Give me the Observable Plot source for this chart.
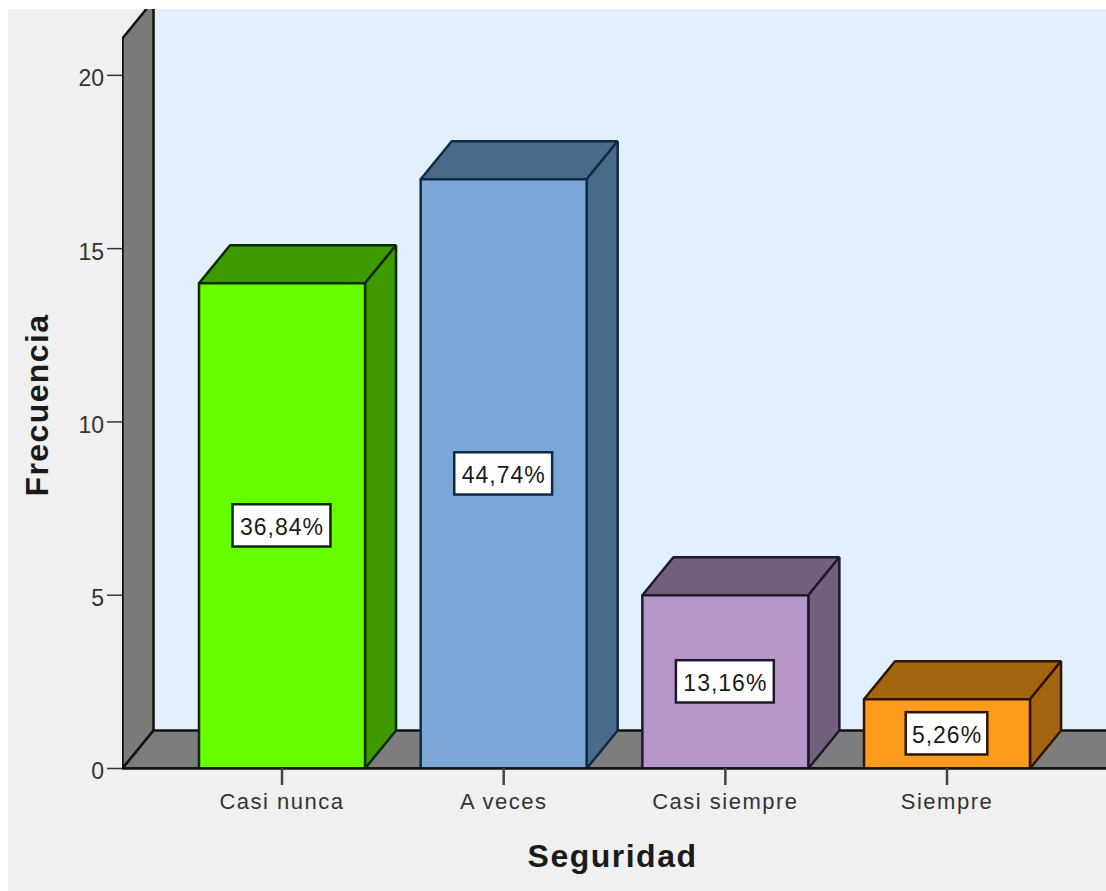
<!DOCTYPE html>
<html lang="es">
<head>
<meta charset="utf-8">
<script src="https://cdn.jsdelivr.net/npm/d3@7"></script>
<script src="https://cdn.jsdelivr.net/npm/@observablehq/plot@0.6"></script>
<style>
  html, body { margin: 0; padding: 0; background: #ffffff; }
  #panel { position: absolute; left: 8px; top: 9px; width: 1098px; height: 882px; background: #f0f0f0; overflow: hidden; }
  #panel svg { display: block; background: transparent; }
</style>
</head>
<body>
<div id="panel"></div>
<script>
// Frecuencia de respuestas por categoría de la variable Seguridad
const categorias = ["Casi nunca", "A veces", "Casi siempre", "Siempre"];
const frecuencias = [14, 17, 5, 2];
const marcasY = [0, 5, 10, 15, 20];

const rellenos = ["#66ff00", "#7ba7d6", "#b695c9", "#fb9a1b"];
const sombras = ["#3f9a02", "#4a6a8a", "#72607e", "#a5640f"];
const bordes = ["#0c2a00", "#0f2a45", "#21182b", "#2e1500"];

const total = d3.sum(frecuencias);
const porcentajes = frecuencias.map(v => (v / total * 100).toFixed(2).replace(".", ",") + "%");

// Extensión de los ejes y perspectiva del gráfico, en unidades de cada escala
const dominioX = [-0.7196, 3.7195];
const dominioY = [0, 21.9];
const medioAncho = 0.3744;
const fondoX = 0.14;
const fondoY = 1.097;
const altoPared = 21.07;
const altoCaja = 0.61;
const anchoCajaPorLetra = 0.0368;

// Polígono cerrado dibujado con las escalas x e y del gráfico
const poligono = (puntos, fill, stroke, strokeWidth = 2.5) =>
  Plot.line([...puntos, puntos[0]], {
    x: "0", y: "1", fill, stroke, strokeWidth,
    strokeLinejoin: "miter", curve: "linear", clip: true
  });

const x0 = dominioX[0];
const x1 = dominioX[1];

const escenario = [
  // Plano del fondo
  Plot.rect([0], {x1: x0 + fondoX, x2: x1, y1: fondoY, y2: dominioY[1], fill: "#e2effd"}),
  // Pared lateral
  poligono([[x0, 0], [x0 + fondoX, fondoY], [x0 + fondoX, altoPared + fondoY], [x0, altoPared]], "#7b7a78", "#111111"),
  // Suelo
  poligono([[x0, 0], [x0 + fondoX, fondoY], [x1 + fondoX, fondoY], [x1 + fondoX, 0]], "#7d7d7d", "#111111")
];

const barras = categorias.flatMap((_, i) => {
  const a = i - medioAncho;
  const b = i + medioAncho;
  const v = frecuencias[i];
  return [
    poligono([[a, v], [a + fondoX, v + fondoY], [b + fondoX, v + fondoY], [b, v]], sombras[i], bordes[i]),
    poligono([[b, 0], [b + fondoX, fondoY], [b + fondoX, v + fondoY], [b, v]], sombras[i], bordes[i]),
    poligono([[a, 0], [a, v], [b, v], [b, 0]], rellenos[i], bordes[i])
  ];
});

const etiquetas = categorias.flatMap((_, i) => {
  const medio = porcentajes[i].length * anchoCajaPorLetra;
  return [
    Plot.rect([i], {
      x1: d => d - medio, x2: d => d + medio,
      y1: frecuencias[i] / 2 - altoCaja, y2: frecuencias[i] / 2 + altoCaja,
      fill: "#ffffff", stroke: bordes[i], strokeWidth: 2.5
    }),
    Plot.text([porcentajes[i]], {
      x: i, y: frecuencias[i] / 2, dy: 1.5, text: d => d,
      fontSize: 23, fill: "#1a1a1a", lineAnchor: "middle"
    })
  ];
});

const grafico = Plot.plot({
  width: 1098,
  height: 882,
  marginLeft: 114,
  marginRight: 0,
  marginTop: 0,
  marginBottom: 123,
  style: {fontFamily: "'Liberation Sans', Arial, sans-serif", background: "transparent", overflow: "visible"},
  x: {domain: dominioX, axis: null},
  y: {domain: dominioY, axis: null},
  marks: [
    ...escenario,
    ...barras,
    Plot.ruleY([0], {stroke: "#111111", strokeWidth: 2.5}),
    ...etiquetas,
    Plot.axisY({
      ticks: marcasY, tickSize: 15, fill: "none",
      label: null, stroke: "#333333", strokeWidth: 1.5
    }),
    Plot.text(marcasY, {
      y: d => d, frameAnchor: "left", textAnchor: "end", dx: -18.5, dy: 3.5,
      fontSize: 23, fill: "#333333", lineAnchor: "middle"
    }),
    Plot.axisX({
      ticks: [0, 1, 2, 3], tickFormat: i => categorias[i], tickSize: 17, tickPadding: 8,
      fontSize: 22, label: null, stroke: "#444444", strokeWidth: 2.5, color: "#333333"
    }),
    Plot.text(["Seguridad"], {
      x: 1.491, frameAnchor: "bottom", dy: 98, text: d => d,
      fontSize: 32, fontWeight: "bold", fill: "#1a1a1a"
    }),
    Plot.text(["Frecuencia"], {
      frameAnchor: "left", textAnchor: "middle", dx: -85, dy: 16, rotate: -90, text: d => d,
      fontSize: 32, fontWeight: "bold", fill: "#1a1a1a"
    })
  ]
});

// Espaciado de letras de los títulos y de las etiquetas
const espaciado = new Map([
  ["Seguridad", "1.5px"],
  ["Frecuencia", "1.4px"],
  ...categorias.map(c => [c, "1.5px"]),
  ...porcentajes.map(p => [p, "1px"])
]);
d3.select(grafico).selectAll("text").each(function () {
  const s = espaciado.get(this.textContent);
  if (s) this.style.letterSpacing = s;
});

document.getElementById("panel").appendChild(grafico);
</script>
</body>
</html>
